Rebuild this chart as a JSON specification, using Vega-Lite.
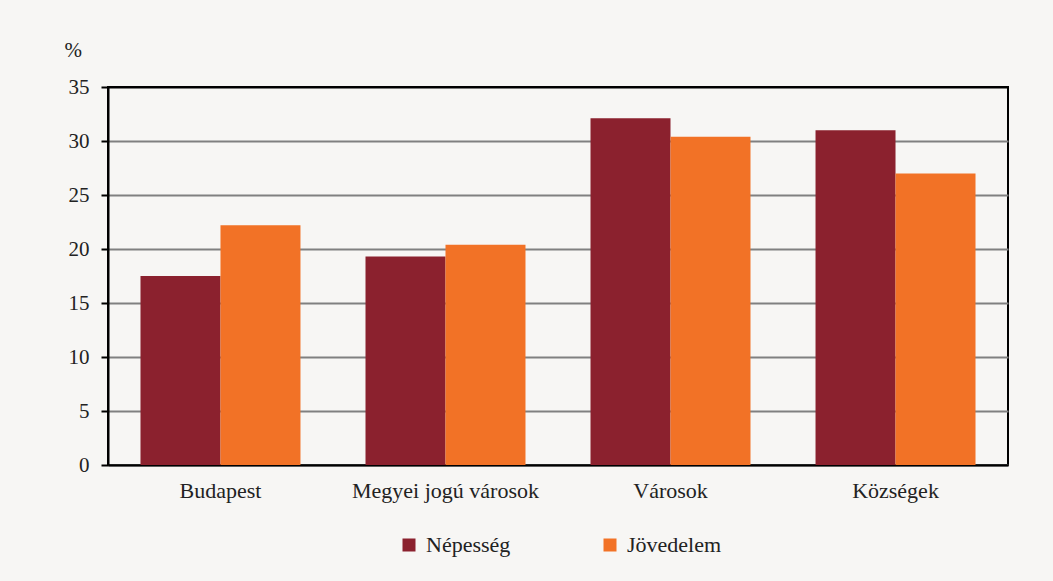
{
  "$schema": "https://vega.github.io/schema/vega-lite/v6.json",
  "width": 900,
  "height": 378,
  "autosize": {"type": "none"},
  "padding": {"left": 108, "top": 87, "right": 45, "bottom": 116},
  "background": "#f7f6f4",
  "data": {
    "values": [
      {"kategoria": "Budapest", "sorozat": "Népesség", "ertek": 17.5},
      {"kategoria": "Budapest", "sorozat": "Jövedelem", "ertek": 22.2},
      {"kategoria": "Megyei jogú városok", "sorozat": "Népesség", "ertek": 19.3},
      {"kategoria": "Megyei jogú városok", "sorozat": "Jövedelem", "ertek": 20.4},
      {"kategoria": "Városok", "sorozat": "Népesség", "ertek": 32.1},
      {"kategoria": "Városok", "sorozat": "Jövedelem", "ertek": 30.4},
      {"kategoria": "Községek", "sorozat": "Népesség", "ertek": 31.0},
      {"kategoria": "Községek", "sorozat": "Jövedelem", "ertek": 27.0}
    ]
  },
  "mark": {"type": "bar"},
  "encoding": {
    "x": {
      "field": "kategoria",
      "type": "nominal",
      "sort": ["Budapest", "Megyei jogú városok", "Városok", "Községek"],
      "scale": {"paddingInner": 0.289, "paddingOuter": 0.1444},
      "axis": {
        "title": null,
        "labelAngle": 0,
        "ticks": false,
        "labelPadding": 15,
        "labelFontSize": 22,
        "labelLimit": 0,
        "domainColor": "black",
        "domainWidth": 2
      }
    },
    "xOffset": {
      "field": "sorozat",
      "type": "nominal",
      "sort": ["Népesség", "Jövedelem"],
      "scale": {"paddingInner": 0, "paddingOuter": 0}
    },
    "y": {
      "field": "ertek",
      "type": "quantitative",
      "scale": {"domain": [0, 35], "nice": false},
      "axis": {
        "values": [0, 5, 10, 15, 20, 25, 30, 35],
        "title": "%",
        "titleAngle": 0,
        "titleAlign": "left",
        "titleBaseline": "middle",
        "titleX": -44,
        "titleY": -37,
        "titleFontSize": 21,
        "titleFontWeight": "normal",
        "titleColor": "#222222",
        "labelFontSize": 21,
        "labelPadding": 12,
        "tickSize": 7,
        "tickColor": "black",
        "tickWidth": 2,
        "domainColor": "black",
        "domainWidth": 2,
        "grid": true,
        "gridColor": {"condition": {"test": "datum.value === 35", "value": "black"}, "value": "#808080"},
        "gridWidth": 2
      }
    },
    "color": {
      "field": "sorozat",
      "type": "nominal",
      "sort": ["Népesség", "Jövedelem"],
      "scale": {"domain": ["Népesség", "Jövedelem"], "range": ["#8b212e", "#f27226"]},
      "legend": {
        "title": null,
        "orient": "none",
        "direction": "horizontal",
        "legendX": 290,
        "legendY": 447,
        "symbolType": "square",
        "symbolSize": 169,
        "symbolStrokeWidth": 0,
        "labelFontSize": 22,
        "labelOffset": 6,
        "columnPadding": 88
      }
    }
  },
  "config": {
    "font": "Liberation Serif",
    "axis": {"labelColor": "#222222", "labelFont": "Liberation Serif", "titleFont": "Liberation Serif"},
    "legend": {"labelColor": "#222222", "labelFont": "Liberation Serif"},
    "view": {"stroke": "black", "strokeWidth": 2}
  }
}
